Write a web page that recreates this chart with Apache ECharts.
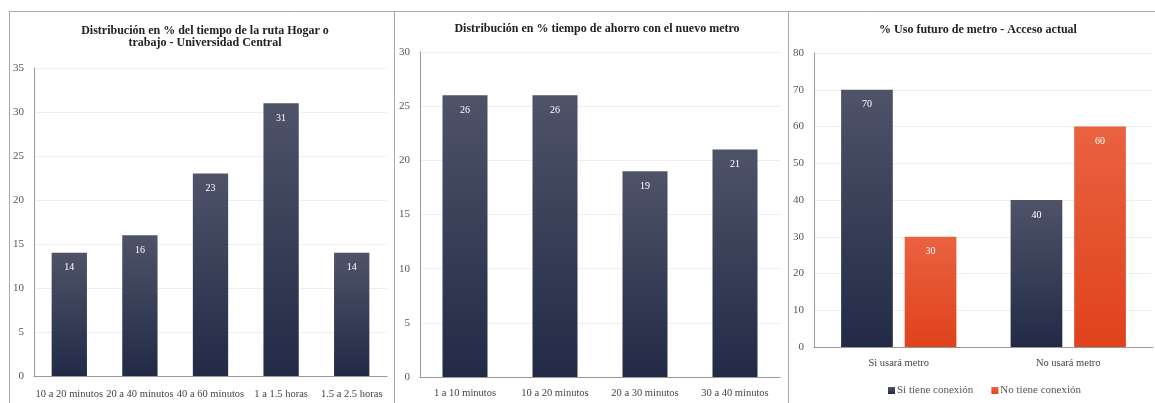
<!DOCTYPE html>
<html>
<head>
<meta charset="utf-8">
<script src="https://cdn.jsdelivr.net/npm/echarts@6/dist/echarts.min.js"></script>
<style>
  html, body { margin: 0; padding: 0; background: #fff; }
  #chart { width: 1155px; height: 403px; }
</style>
</head>
<body>
<div id="chart"></div>
<script>
// panel 1
const rutaCategories = ['10 a 20 minutos', '20 a 40 minutos', '40 a 60 minutos', '1 a 1.5 horas', '1.5 a 2.5 horas'];
const rutaValues = [14, 16, 23, 31, 14];
// panel 2
const ahorroCategories = ['1 a 10 minutos', '10 a 20 minutos', '20 a 30 minutos', '30 a 40 minutos'];
const ahorroValues = [26, 26, 19, 21];
// panel 3
const usoCategories = ['Si usará metro', 'No usará metro'];
const siConexion = [70, 40];
const noConexion = [30, 60];

const chart = echarts.init(document.getElementById('chart'));

const serif = 'Liberation Serif';
const navy = new echarts.graphic.LinearGradient(0, 0, 0, 1, [
  { offset: 0, color: '#4e5368' },
  { offset: 1, color: '#222a46' }
]);
const orange = new echarts.graphic.LinearGradient(0, 0, 0, 1, [
  { offset: 0, color: '#ea6240' },
  { offset: 1, color: '#df421c' }
]);

const titleStyle = { fontFamily: serif, fontWeight: 'bold', fontSize: 12, color: '#222', lineHeight: 12 };
const tickLabel = { fontFamily: serif, fontSize: 11, color: '#555' };

function yAxis(grid, max, interval) {
  return {
    type: 'value', gridIndex: grid, min: 0, max: max, interval: interval,
    axisLine: { show: true, lineStyle: { color: '#999' } },
    axisTick: { show: false },
    axisLabel: Object.assign({ margin: 10 }, tickLabel),
    splitLine: { lineStyle: { color: '#eeeeee' } }
  };
}
function xAxis(grid, data, margin) {
  return {
    type: 'category', gridIndex: grid, data: data,
    axisLine: { lineStyle: { color: '#999' } },
    axisTick: { show: false },
    axisLabel: Object.assign({ margin: margin, interval: 0 }, tickLabel, { fontSize: 10.5, color: '#444' })
  };
}
const valueLabel = {
  show: true, position: 'insideTop', distance: 10,
  fontFamily: serif, fontSize: 10, color: '#fff'
};

chart.setOption({
  animation: false,
  title: [
    { text: 'Distribución en % del tiempo de la ruta Hogar o\ntrabajo - Universidad Central', left: 200, top: 20, textAlign: 'center', textStyle: titleStyle },
    { text: 'Distribución en % tiempo de ahorro con el nuevo metro', left: 592, top: 18, textAlign: 'center', textStyle: titleStyle },
    { text: '% Uso futuro de metro - Acceso actual', left: 973, top: 19, textAlign: 'center', textStyle: titleStyle }
  ],
  legend: {
    data: ['Si tiene conexión', 'No tiene conexión'],
    left: 883, top: 380,
    itemWidth: 7, itemHeight: 7, itemGap: 18, icon: 'rect',
    textStyle: { fontFamily: serif, fontSize: 11, color: '#555', padding: [0, 0, 0, -3] }
  },
  grid: [
    { left: 34, top: 68, width: 353, height: 308 },
    { left: 420, top: 52, width: 360, height: 325 },
    { left: 814, top: 53, width: 339, height: 294 }
  ],
  xAxis: [xAxis(0, rutaCategories, 13), xAxis(1, ahorroCategories, 11), xAxis(2, usoCategories, 11)],
  yAxis: [yAxis(0, 35, 5), yAxis(1, 30, 5), yAxis(2, 80, 10)],
  graphic: [
    { type: 'line', shape: { x1: 9, y1: 11.5, x2: 1155, y2: 11.5 }, style: { stroke: '#a8a8a8', lineWidth: 1 } },
    { type: 'line', shape: { x1: 9.5, y1: 11, x2: 9.5, y2: 403 }, style: { stroke: '#a8a8a8', lineWidth: 1 } },
    { type: 'line', shape: { x1: 394.5, y1: 11, x2: 394.5, y2: 403 }, style: { stroke: '#a8a8a8', lineWidth: 1 } },
    { type: 'line', shape: { x1: 788.5, y1: 11, x2: 788.5, y2: 403 }, style: { stroke: '#a8a8a8', lineWidth: 1 } }
  ],
  series: [
    { type: 'bar', xAxisIndex: 0, yAxisIndex: 0, data: rutaValues, barWidth: '50%', itemStyle: { color: navy }, label: valueLabel },
    { type: 'bar', xAxisIndex: 1, yAxisIndex: 1, data: ahorroValues, barWidth: '50%', itemStyle: { color: navy }, label: valueLabel },
    { name: 'Si tiene conexión', type: 'bar', xAxisIndex: 2, yAxisIndex: 2, data: siConexion, barGap: '23%', barCategoryGap: '32%', itemStyle: { color: navy }, label: valueLabel },
    { name: 'No tiene conexión', type: 'bar', xAxisIndex: 2, yAxisIndex: 2, data: noConexion, barGap: '23%', barCategoryGap: '32%', itemStyle: { color: orange }, label: valueLabel }
  ]
});

window.addEventListener('resize', () => chart.resize());
</script>
</body>
</html>
